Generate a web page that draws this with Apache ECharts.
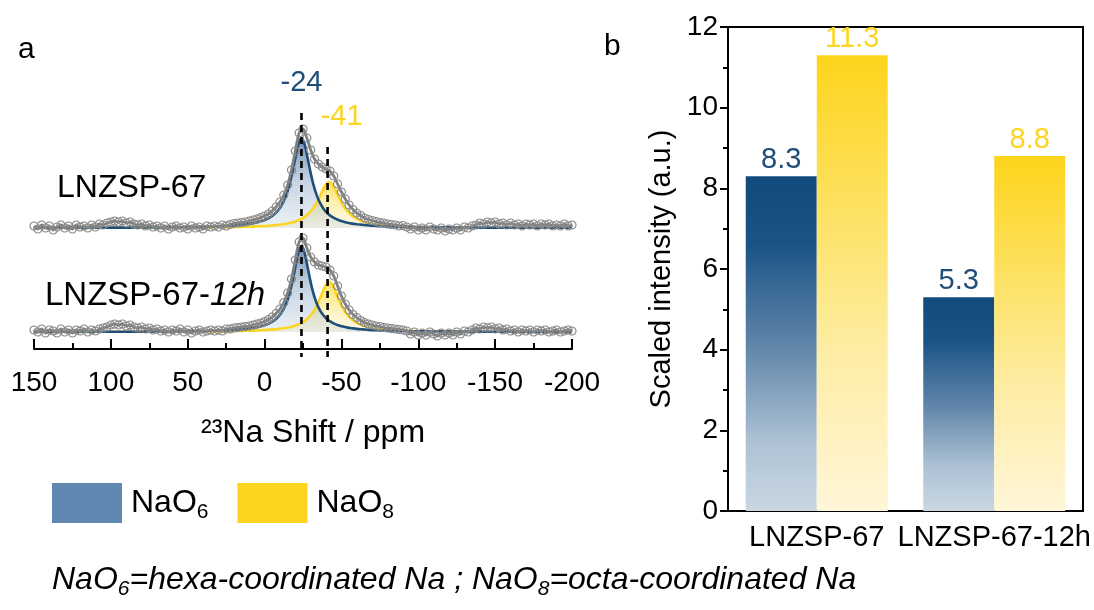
<!DOCTYPE html>
<html><head><meta charset="utf-8">
<script src="https://cdn.jsdelivr.net/npm/echarts@6/dist/echarts.min.js"></script>
<style>html,body{margin:0;padding:0;background:#fff}#c{width:1094px;height:610px}</style>
</head><body><div id="c"></div>
<script>
const FONT = 'Arial, "Liberation Sans", sans-serif';
const BLUE = '#1f4e79';
const YELLOW = '#fdd520';

// ---------- Panel a : 23Na NMR ----------
const ppmFit = [150,130,110,90,70,55,45,35,28,22,17,13,9,6,3,0,-3,-6,-9,-12,-15,-18,-20,-22,-24,-26,-28,-30,-32,-34,-36,-38,-40,-42,-44,-46,-48,-51,-54,-57,-60,-64,-68,-73,-78,-85,-95,-110,-130,-150,-175,-200];
const naO6Fit67 = [0.2,0.2,0.3,0.4,0.6,0.8,1.1,1.4,1.8,2.3,2.9,3.6,4.4,5.3,6.5,8.0,10.2,13.3,18.0,25.3,36.9,54.9,70.1,84.0,90,84.0,70.1,54.9,42.1,32.4,25.3,20.1,16.2,13.3,11.1,9.4,8.0,6.5,5.3,4.4,3.8,3.1,2.5,2.1,1.7,1.3,1.0,0.7,0.5,0.3,0.2,0.2];
const naO8Fit67 = [0.1,0.1,0.2,0.2,0.3,0.4,0.5,0.6,0.8,0.9,1.1,1.2,1.4,1.6,1.8,2.0,2.3,2.7,3.2,3.8,4.6,5.7,6.6,7.8,9.2,11.1,13.5,16.6,20.6,25.7,31.8,38.4,43.8,46,43.8,38.4,31.8,23.0,16.6,12.2,9.2,6.6,4.9,3.6,2.7,1.9,1.3,0.8,0.5,0.3,0.2,0.2];
const naO6Fit12h = [0.1,0.2,0.2,0.3,0.5,0.7,0.9,1.2,1.5,2.0,2.4,3.0,3.7,4.4,5.4,6.7,8.6,11.3,15.4,21.8,32.4,49.6,64.8,79.5,86,79.5,64.8,49.6,37.3,28.3,21.8,17.2,13.8,11.3,9.4,7.9,6.7,5.4,4.4,3.7,3.1,2.6,2.1,1.7,1.4,1.1,0.8,0.6,0.4,0.3,0.2,0.1];
const naO8Fit12h = [0.1,0.1,0.2,0.2,0.3,0.4,0.5,0.6,0.7,0.9,1.0,1.2,1.4,1.5,1.7,2.0,2.3,2.6,3.1,3.7,4.5,5.6,6.5,7.7,9.1,11.0,13.5,16.7,21.0,26.5,33.4,40.9,47.4,50,47.4,40.9,33.4,23.6,16.7,12.2,9.1,6.5,4.8,3.5,2.6,1.9,1.3,0.8,0.5,0.3,0.2,0.1];

// experimental points, every 2.5 ppm from 150 to -200
const ppmExp = Array.from({length: 141}, (_, i) => 150 - 2.5 * i);
const exp67 = [
  2,-1,3,0,2,-2,1,3,0,2, -1,3,1,2,0,3,1,4,3,5, 6,7,6,7,5,6,4,3,4,2, 3,1,2,0,2,-1,1,2,0,1, -1,2,0,1,-1,2,1,2,1,3, 2,3.5,
  4.5,5,5.5,6,7,8,9,10.5,12,14, 17,21,26,33,43,58,77,95,99,90, 78,69,64,61,59,57,52,44,36,29, 23,18.5,15,12.5,10,8.5,7.5,6.5,5.5,5, 4,3.5,3,2,2.5,
  1,-1,1,-2,0,-2,1,-1,-2,0, -3,-1,-2,0,-2,1,0,2,3,5, 4,6,5,6,4,5,3,5,3,4, 2,4,3,4,2,4,3,4,2,3, 2,4,2,3
];
const exp12h = [
  2,0,3,-1,2,1,-1,3,0,2, -1,2,1,3,0,2,1,3,4,5, 7,8,7,8,6,7,5,4,5,3, 4,2,3,1,2,0,2,1,3,0, 2,-1,1,2,0,1,2,1,2,1, 3,3,
  4,4.5,5,5.5,6,7,8,9,10.5,12.5, 15,18.5,23,29.5,39,53,72,90,94,84, 75,70,67,66,65,62,56,46,36,28, 22,17.5,14.5,11.5,9.5,8,7,6,5.5,4.5, 4,3.5,3,2.5,2,
  1,-2,0,-3,-1,-3,0,-2,-4,-1, -3,-1,-3,0,-2,1,0,2,4,3, 5,4,5,3,4,2,3,1,2,0, 2,1,2,0,2,1,2,0,1,2, 0,1,2,1
];
const peakPositions = [-24, -41];
const peakLabels = ['-24', '-41'];
const spectrumNames = ['LNZSP-67', 'LNZSP-67-12h'];

// ---------- Panel b : scaled intensities ----------
const categories = ['LNZSP-67', 'LNZSP-67-12h'];
const naO6Intensity = [8.3, 5.3];
const naO8Intensity = [11.3, 8.8];

const zip = (xs, ys) => xs.map((x, i) => [x, ys[i]]);
const grad = (stops) => new echarts.graphic.LinearGradient(0, 0, 0, 1, stops.map((c) => ({offset: c[0], color: c[1]})));

const blueArea = () => grad([[0, 'rgba(28,78,128,0.92)'], [0.5, 'rgba(95,135,176,0.5)'], [1, 'rgba(160,185,212,0.3)']]);
const yellowArea = () => grad([[0, 'rgba(253,212,25,0.98)'], [0.5, 'rgba(252,222,80,0.6)'], [1, 'rgba(248,232,150,0.3)']]);

function fitSeries(name, yIdx, data, color, area) {
  return {
    name, type: 'line', xAxisIndex: 0, yAxisIndex: yIdx, data, smooth: 0.35,
    symbol: 'none', lineStyle: {color, width: 2.6}, areaStyle: {color: area}, z: 2, silent: true
  };
}
function expSeries(name, yIdx, data) {
  return {
    name, type: 'line', xAxisIndex: 0, yAxisIndex: yIdx, data, smooth: 0.3,
    symbol: 'circle', symbolSize: 8, showSymbol: true,
    itemStyle: {color: 'rgba(255,255,255,0)', borderColor: '#8a8a8a', borderWidth: 1.2},
    lineStyle: {color: '#808080', width: 2.8}, z: 4, silent: true
  };
}

const chart = echarts.init(document.getElementById('c'), null, {renderer: 'canvas'});
const option = {
  animation: false,
  textStyle: {fontFamily: FONT},
  grid: [
    {left: 34, right: 522, top: 100, bottom: 261},
    {left: 728, right: 11, top: 27, bottom: 99, show: true, borderColor: '#000', borderWidth: 2}
  ],
  legend: {
    left: 52, top: 483, padding: 0, itemWidth: 70, itemHeight: 40, itemGap: 29,
    icon: 'rect',
    data: [{name: 'NaO6', itemStyle: {color: '#5f87b0'}}, {name: 'NaO8', itemStyle: {color: '#fdd520'}}],
    formatter: (n) => '{n|' + n.slice(0, 3) + '}{s|' + n.slice(3) + '}',
    textStyle: {
      color: '#000', fontFamily: FONT, padding: [0, 0, 0, 4],
      rich: {n: {fontSize: 32, lineHeight: 40, fontFamily: FONT}, s: {fontSize: 21, lineHeight: 22, verticalAlign: 'bottom', fontFamily: FONT}}
    },
    selectedMode: false
  },
  xAxis: [
    {
      gridIndex: 0, type: 'value', min: -200, max: 150, interval: 50, inverse: true,
      axisLine: {onZero: false, lineStyle: {color: '#000', width: 2}},
      axisTick: {inside: true, length: 10, lineStyle: {color: '#000', width: 2}},
      minorTick: {show: true, splitNumber: 2, length: 6, lineStyle: {color: '#000', width: 2}},
      splitLine: {show: false},
      axisLabel: {fontSize: 28, color: '#000', margin: 20, fontFamily: FONT},
      name: '²³Na Shift / ppm', nameLocation: 'middle', nameGap: 68,
      nameTextStyle: {fontSize: 32, color: '#000', fontFamily: FONT, padding: [0, 0, 0, 20]}
    },
    {
      gridIndex: 1, type: 'category', data: categories,
      axisLine: {onZero: false, lineStyle: {color: '#000', width: 2}},
      axisTick: {alignWithLabel: true, length: 8, lineStyle: {color: '#000', width: 2}},
      axisLabel: {fontSize: 29, color: '#000', margin: 12, interval: 0, fontFamily: FONT}
    }
  ],
  yAxis: [
    {gridIndex: 0, type: 'value', min: -17, max: 232, show: false},
    {gridIndex: 0, type: 'value', min: -121, max: 128, show: false},
    {
      gridIndex: 1, type: 'value', min: 0, max: 12, interval: 2,
      axisLine: {show: true, lineStyle: {color: '#000', width: 2}},
      axisTick: {show: true, inside: false, length: 8, lineStyle: {color: '#000', width: 2}},
      minorTick: {show: true, splitNumber: 2, length: 5, lineStyle: {color: '#000', width: 2}},
      splitLine: {show: false},
      axisLabel: {fontSize: 28, color: '#000', margin: 10, fontFamily: FONT},
      name: 'Scaled intensity (a.u.)', nameLocation: 'middle', nameGap: 52, nameRotate: 90,
      nameTextStyle: {fontSize: 29, color: '#000', fontFamily: FONT}
    }
  ],
  series: [
    fitSeries('NaO8 fit LNZSP-67', 1, zip(ppmFit, naO8Fit67), YELLOW, yellowArea()),
    fitSeries('NaO6 fit LNZSP-67', 1, zip(ppmFit, naO6Fit67), BLUE, blueArea()),
    expSeries('exp LNZSP-67', 1, zip(ppmExp, exp67)),
    fitSeries('NaO8 fit LNZSP-67-12h', 0, zip(ppmFit, naO8Fit12h), YELLOW, yellowArea()),
    fitSeries('NaO6 fit LNZSP-67-12h', 0, zip(ppmFit, naO6Fit12h), BLUE, blueArea()),
    expSeries('exp LNZSP-67-12h', 0, zip(ppmExp, exp12h)),
    {
      name: 'NaO6', type: 'bar', xAxisIndex: 1, yAxisIndex: 2, data: naO6Intensity,
      barGap: '0%', barCategoryGap: '20%',
      itemStyle: {color: grad([[0, '#134a7c'], [0.2, '#1a5386'], [0.5, '#5e84a8'], [0.8, '#afc3d5'], [1, '#c9d7e2']])},
      label: {show: true, position: 'top', distance: 2, fontSize: 29, color: BLUE, fontFamily: FONT}
    },
    {
      name: 'NaO8', type: 'bar', xAxisIndex: 1, yAxisIndex: 2, data: naO8Intensity,
      barGap: '0%', barCategoryGap: '20%',
      itemStyle: {color: grad([[0, '#fdd41c'], [0.3, '#fde05a'], [0.65, '#feeda4'], [1, '#fff6d8']])},
      label: {show: true, position: 'top', distance: 2, fontSize: 29, color: YELLOW, fontFamily: FONT}
    }
  ]
};
chart.setOption(option);

// annotations positioned through the axis scale
const graphics = [];
const lineTops = [113, 147];
const labelYs = [83, 117];
const labelColors = [BLUE, YELLOW];
peakPositions.forEach((p, i) => {
  const px = chart.convertToPixel({xAxisIndex: 0}, p);
  graphics.push({
    type: 'line', z: 10, silent: true,
    shape: {x1: px, y1: lineTops[i], x2: px, y2: 357},
    style: {stroke: '#000', lineWidth: 2.6, lineDash: [7, 5]}
  });
  graphics.push({
    type: 'text', z: 10, silent: true, x: px + (i === 1 ? 14 : 0), y: labelYs[i],
    style: {text: peakLabels[i], fill: labelColors[i], font: '29px ' + FONT, align: 'center', verticalAlign: 'middle'}
  });
});
graphics.push(
  {type: 'text', x: 18, y: 50, style: {text: 'a', fill: '#000', font: '30px ' + FONT, verticalAlign: 'middle'}},
  {type: 'text', x: 604, y: 47, style: {text: 'b', fill: '#000', font: '30px ' + FONT, verticalAlign: 'middle'}},
  {type: 'text', x: 57, y: 188, style: {text: spectrumNames[0], fill: '#000', font: '32px ' + FONT, verticalAlign: 'middle'}},
  {type: 'text', x: 45, y: 296, style: {
    text: '{n|LNZSP-67-}{i|12h}', fill: '#000', verticalAlign: 'middle',
    rich: {n: {fontSize: 33, fontFamily: FONT, fill: '#000'}, i: {fontSize: 33, fontFamily: FONT, fontStyle: 'italic', fill: '#000'}}
  }},
  {type: 'text', x: 52, y: 580, style: {
    text: '{a|NaO}{b|6}{a|=hexa-coordinated Na ; NaO}{b|8}{a|=octa-coordinated Na}', verticalAlign: 'middle',
    rich: {
      a: {fontSize: 32, lineHeight: 40, fontStyle: 'italic', fontFamily: FONT, fill: '#000'},
      b: {fontSize: 21, lineHeight: 25, verticalAlign: 'bottom', fontStyle: 'italic', fontFamily: FONT, fill: '#000'}
    }
  }}
);
chart.setOption({graphic: graphics});
</script></body></html>
